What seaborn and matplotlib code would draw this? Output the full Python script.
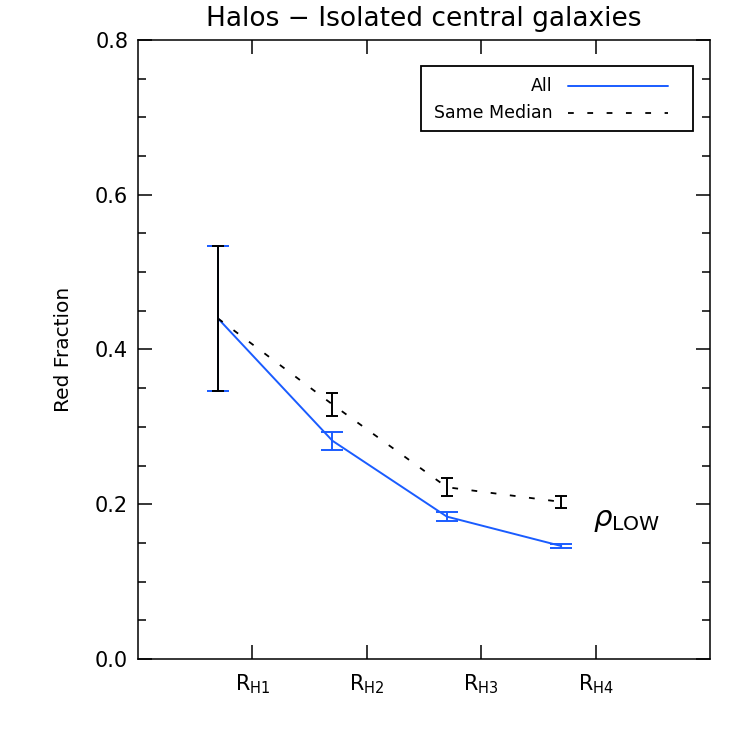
import numpy as np
import pandas as pd
import matplotlib
matplotlib.use('Agg')
import matplotlib.pyplot as plt
import seaborn as sns
from matplotlib.patches import Rectangle
from matplotlib.lines import Line2D
from matplotlib.ticker import MultipleLocator

# Dados
bins = ['R$_{\\mathregular{H1}}$', 'R$_{\\mathregular{H2}}$',
        'R$_{\\mathregular{H3}}$', 'R$_{\\mathregular{H4}}$']
tick_pos = [1, 2, 3, 4]
x_pts = [0.7, 1.7, 2.7, 3.7]

frac_all = [0.440, 0.282, 0.184, 0.146]
err_all = [0.0935, 0.012, 0.0054, 0.0021]

frac_med = [0.440, 0.329, 0.222, 0.203]
err_med = [0.0935, 0.015, 0.0118, 0.0077]

blue = '#1a5cff'

sns.set_style('ticks', {'xtick.direction': 'in', 'ytick.direction': 'in',
                        'axes.edgecolor': 'black', 'text.color': 'black',
                        'axes.labelcolor': 'black', 'xtick.color': 'black',
                        'ytick.color': 'black'})
plt.rcParams['font.family'] = ['DejaVu Sans']

fig = plt.figure(figsize=(7.47, 7.47), dpi=100)
ax = fig.add_axes([0.1847, 0.1178, 0.9505 - 0.1847, 0.9465 - 0.1178])

df = pd.DataFrame({'x': x_pts + x_pts,
                   'y': frac_all + frac_med,
                   'serie': ['All'] * 4 + ['Same Median'] * 4})

sns.lineplot(data=df[df['serie'] == 'All'], x='x', y='y', color=blue,
             lw=1.4, ax=ax, legend=False)
sns.lineplot(data=df[df['serie'] == 'Same Median'], x='x', y='y', color='black',
             lw=1.3, ax=ax, legend=False, dashes=False)
ax.lines[-1].set_dashes([3.2, 7.5])

ax.errorbar(x_pts, frac_all, yerr=err_all, fmt='none', ecolor=blue,
            elinewidth=1.4, capsize=8, capthick=1.4)
ax.errorbar(x_pts, frac_med, yerr=err_med, fmt='none', ecolor='black',
            elinewidth=1.4, capsize=4.5, capthick=1.4)

ax.set_xlim(0, 5)
ax.set_ylim(0, 0.8)
ax.set_xticks(tick_pos)
ax.set_xticklabels(bins, fontsize=15)
ax.yaxis.set_major_locator(MultipleLocator(0.2))
ax.yaxis.set_minor_locator(MultipleLocator(0.05))
ax.yaxis.set_major_formatter(plt.FormatStrFormatter('%.1f'))
ax.tick_params(axis='both', which='major', length=10, width=1.1,
               top=True, right=True, labelsize=15, pad=10)
ax.tick_params(axis='y', which='major', pad=7)
ax.tick_params(axis='y', which='minor', length=6, width=1.1, right=True)
for s in ax.spines.values():
    s.set_linewidth(1.1)

ax.set_xlabel('')
ax.set_ylabel('Red Fraction', fontsize=14.5, labelpad=16)
ax.set_title('Halos \u2212 Isolated central galaxies', fontsize=19, pad=10)

ax.text(3.98, 0.179, r'$\rho_{\mathregular{LOW}}$', fontsize=21,
        ha='left', va='center')

# Legenda desenhada à mão, no estilo IDL
ax.add_patch(Rectangle((0.495, 0.853), 0.475, 0.105, transform=ax.transAxes,
                       fill=False, edgecolor='black', lw=1.3))
ax.text(0.724, 0.926, 'All', transform=ax.transAxes, ha='right',
        va='center', fontsize=12.5)
ax.text(0.724, 0.882, 'Same Median', transform=ax.transAxes, ha='right',
        va='center', fontsize=12.5)
ax.add_line(Line2D([0.752, 0.927], [0.926, 0.926], transform=ax.transAxes,
                   color=blue, lw=1.4))
ax.add_line(Line2D([0.752, 0.927], [0.882, 0.882], transform=ax.transAxes,
                   color='black', lw=1.3, dashes=[3.2, 7.5]))

fig.savefig('out.png', dpi=100)
